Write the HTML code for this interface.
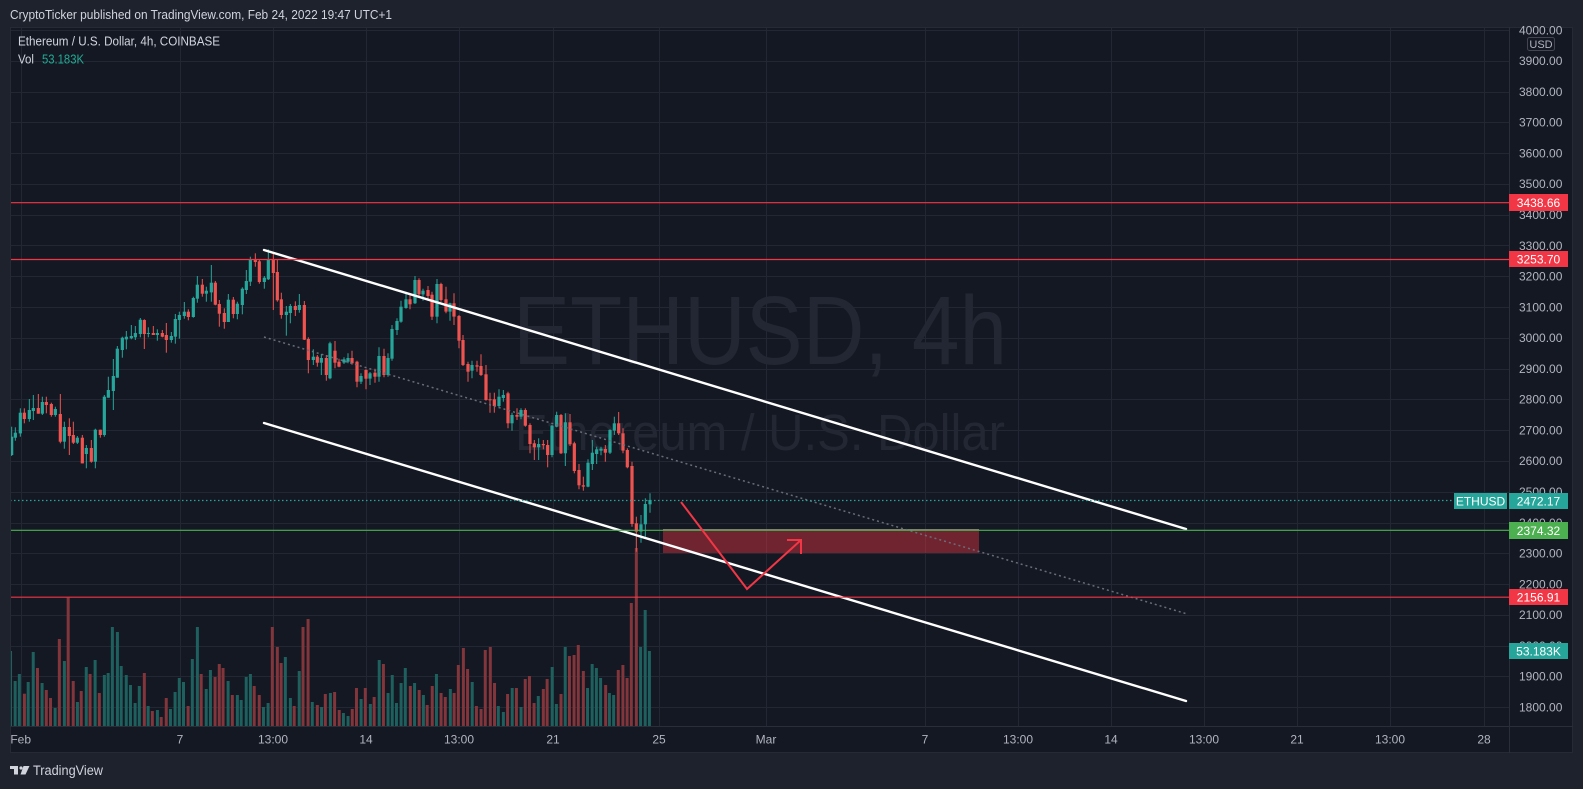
<!DOCTYPE html>
<html><head><meta charset="utf-8">
<style>
html,body{margin:0;padding:0;background:#1e222d;width:1583px;height:789px;overflow:hidden}
svg{display:block}
text{font-family:"Liberation Sans",Arial,sans-serif}
</style></head>
<body>
<svg id="s" xmlns="http://www.w3.org/2000/svg" width="1583" height="789" viewBox="0 0 1583 789">
<rect x="0" y="0" width="1583" height="789" fill="#1e222d"/>
<text x="10" y="19" font-size="13" fill="#d1d4dc" textLength="382" lengthAdjust="spacingAndGlyphs">CryptoTicker published on TradingView.com, Feb 24, 2022 19:47 UTC+1</text>
<rect x="10.5" y="27.5" width="1562" height="725" fill="#141823" stroke="#262a35" stroke-width="1"/>
<defs><clipPath id="pc"><rect x="11" y="28" width="1498" height="698"/></clipPath></defs>
<g id="plot" clip-path="url(#pc)">
  <text x="513" y="364" font-size="97" fill="#232733" textLength="494" lengthAdjust="spacingAndGlyphs">ETHUSD, 4h</text>
  <text x="515" y="450" font-size="51" fill="#232733" textLength="490" lengthAdjust="spacingAndGlyphs">Ethereum / U.S. Dollar</text>
  <g id="grid" stroke="#232733" stroke-width="1"></g>
  <g id="vol"></g>
  <g id="candles"></g>
  <rect x="663" y="529" width="316" height="24" fill="#f23645" fill-opacity="0.41"/>
  <line x1="663" y1="529.5" x2="979" y2="529.5" stroke="#8a7479" stroke-width="1"/>
  <line x1="264" y1="337" x2="1186" y2="613.6" stroke="#6a6d78" stroke-width="1.5" stroke-dasharray="2,3"/>
  <line x1="264" y1="250" x2="1186" y2="529" stroke="#ffffff" stroke-width="2.4" stroke-linecap="round"/>
  <line x1="264" y1="423" x2="1186" y2="701" stroke="#ffffff" stroke-width="2.4" stroke-linecap="round"/>
  <line x1="10" y1="202.7" x2="1509" y2="202.7" stroke="#f23645" stroke-width="1.2"/>
  <line x1="10" y1="259.5" x2="1509" y2="259.5" stroke="#f23645" stroke-width="1.2"/>
  <line x1="10" y1="597.2" x2="1509" y2="597.2" stroke="#f23645" stroke-width="1.2"/>
  <line x1="10" y1="530.3" x2="1509" y2="530.3" stroke="#4caf50" stroke-width="1.2"/>
  <line x1="10" y1="500.5" x2="1454" y2="500.5" stroke="#26a69a" stroke-width="1.2" stroke-dasharray="1.5,2.5"/>
  <polyline points="681,502 747,589 801,540" fill="none" stroke="#f23645" stroke-width="2" stroke-linejoin="miter"/>
  <polyline points="787,540 801,540 801,554" fill="none" stroke="#f23645" stroke-width="2"/>
</g>
<line x1="1509.5" y1="27" x2="1509.5" y2="753" stroke="#2a2e39" stroke-width="1"/>
<line x1="10" y1="726.5" x2="1573" y2="726.5" stroke="#2a2e39" stroke-width="1"/>
<g id="paxis" font-size="12" fill="#b2b5be"></g>
<g id="taxis" font-size="12" fill="#b2b5be" text-anchor="middle"></g>
<rect x="1527.5" y="37.5" width="27" height="13" rx="2" fill="#141823" stroke="#434651"/>
<text x="1541" y="48" font-size="11" fill="#b2b5be" text-anchor="middle">USD</text>
<g font-size="12" fill="#ffffff" text-anchor="middle">
  <rect x="1454" y="493" width="53" height="16" fill="#26a69a"/><text x="1480.5" y="505.5">ETHUSD</text>
  <rect x="1509" y="493" width="59" height="16" fill="#26a69a"/><text x="1538.5" y="505.5">2472.17</text>
  <rect x="1509" y="194" width="59" height="17" fill="#f23645"/><text x="1538.5" y="207">3438.66</text>
  <rect x="1509" y="251" width="59" height="16" fill="#f23645"/><text x="1538.5" y="263.5">3253.70</text>
  <rect x="1509" y="522" width="59" height="17" fill="#4caf50"/><text x="1538.5" y="535">2374.32</text>
  <rect x="1509" y="589" width="59" height="16" fill="#f23645"/><text x="1538.5" y="601.5">2156.91</text>
  <rect x="1509" y="643" width="59" height="16" fill="#26a69a"/><text x="1538.5" y="655.5">53.183K</text>
</g>
<text x="18" y="45.7" font-size="12.5" fill="#d1d4dc" textLength="202" lengthAdjust="spacingAndGlyphs">Ethereum / U.S. Dollar, 4h, COINBASE</text>
<text x="18" y="63.3" font-size="12.5" fill="#d1d4dc" textLength="16" lengthAdjust="spacingAndGlyphs">Vol</text>
<text x="42" y="63.3" font-size="12.5" fill="#22ab94" textLength="42" lengthAdjust="spacingAndGlyphs">53.183K</text>
<g fill="#d1d4dc">
  <rect x="10" y="766" width="8" height="3"/>
  <rect x="14" y="766" width="4" height="8.5"/>
  <circle cx="21" cy="768" r="1.6"/>
  <polygon points="23.5,766 29.5,766 25.5,774.5 20.5,774.5"/>
</g>
<text x="33" y="775" font-size="13.5" fill="#d1d4dc" textLength="70" lengthAdjust="spacingAndGlyphs">TradingView</text>
</svg>
<script>
(function(){
var NS="http://www.w3.org/2000/svg";
function el(tag,attrs,parent,txt){var e=document.createElementNS(NS,tag);for(var k in attrs)e.setAttribute(k,attrs[k]);if(txt!==undefined)e.textContent=txt;parent.appendChild(e);return e;}
function Y(p){return 60.8+(3900-p)*0.3078;}
var grid=document.getElementById('grid');
for(var p=1800;p<=4000;p+=100){var y=Math.round(Y(p))+0.5;el('line',{x1:10,y1:y,x2:1509,y2:y},grid);}
var vx=[20.7,180,273,366,459,553,659,766,925,1018,1111,1204,1297,1390,1484];
var vl=["Feb","7","13:00","14","13:00","21","25","Mar","7","13:00","14","13:00","21","13:00","28"];
vx.forEach(function(x){var xx=Math.round(x)+0.5;el('line',{x1:xx,y1:27,x2:xx,y2:727},grid);});
var ta=document.getElementById('taxis');
vx.forEach(function(x,i){el('text',{x:x,y:743.5},ta,vl[i]);});
var pa=document.getElementById('paxis');
for(var p=1800;p<=4000;p+=100){el('text',{x:1519,y:(Y(p)+4.3).toFixed(1)},pa,p+".00");}
// volume
var V=[[25,'T',198],[36,'T',288],[46,'T',267],[58,'R',326],[67,'T',291],[79,'T',201],[89,'R',249],[100,'T',294],[110,'R',315],[120,'R',339],[131,'T',369],[141,'R',162],[153,'T',228],[162,'R',38],[174,'R',288],[184,'T',351],[193,'R',318],[205,'T',246],[214,'R',267],[226,'T',225],[236,'R',324],[248,'T',270],[257,'T',264],[267,'T',126],[279,'T',141],[288,'T',243],[300,'T',270],[310,'T',300],[321,'T',354],[331,'T',303],[343,'R',264],[352,'T',363],[362,'R',378],[374,'T',375],[383,'R',396],[395,'R',339],[405,'T',372],[416,'T',321],[426,'T',279],[436,'T',291],[447,'R',363],[457,'T',222],[469,'T',126],[478,'R',267],[490,'T',312],[500,'T',255],[511,'R',276],[521,'R',237],[530,'R',249],[542,'T',288],[552,'R',330],[564,'T',330],[573,'T',345],[585,'T',276],[595,'T',267],[604,'R',303],[616,'R',330],[626,'T',366],[637,'T',354],[647,'R',126],[659,'R',186],[668,'R',234],[678,'T',216],[690,'T',339],[699,'R',363],[711,'T',258],[720,'R',126],[732,'R',102],[742,'T',351],[754,'R',360],[764,'T',366],[773,'R',327],[785,'T',324],[795,'R',321],[806,'R',375],[816,'T',384],[827,'T',393],[837,'R',372],[847,'R',309],[858,'T',342],[868,'R',309],[880,'T',357],[889,'R',336],[901,'T',225],[911,'R',237],[922,'T',324],[932,'T',270],[942,'T',354],[953,'T',294],[963,'T',249],[975,'R',303],[985,'T',294],[996,'R',315],[1006,'T',330],[1015,'R',360],[1027,'R',303],[1037,'T',267],[1048,'R',324],[1058,'R',336],[1070,'T',312],[1079,'R',324],[1089,'R',240],[1101,'R',189],[1111,'R',252],[1122,'T',291],[1132,'R',363],[1143,'R',372],[1153,'R',195],[1165,'R',186],[1175,'R',294],[1184,'T',363],[1196,'T',381],[1206,'R',327],[1217,'T',309],[1227,'R',309],[1238,'T',366],[1248,'R',282],[1258,'R',273],[1269,'R',354],[1279,'T',333],[1291,'R',312],[1300,'R',282],[1312,'T',246],[1322,'T',357],[1333,'R',327],[1343,'T',186],[1353,'R',213],[1364,'R',210],[1374,'R',180],[1386,'R',258],[1396,'T',309],[1407,'T',237],[1417,'T',249],[1427,'T',279],[1439,'R',300],[1448,'T',324],[1458,'T',330],[1469,'R',255],[1480,'R',240],[1490,'R',279],[1500,'R',54],[1512,'R',-111],[1522,'T',186],[1533,'T',75],[1543,'T',198]];
var vg=document.getElementById('vol');
V.forEach(function(v){var x=v[0]/2.376;var top=585+v[2]/3;el('rect',{x:(x-1.5).toFixed(2),y:top.toFixed(1),width:3,height:(726-top).toFixed(1),fill:v[1]=='T'?'#1d605d':'#82353a'},vg);});
// candles
var cg=document.getElementById('candles');
function C(x,t,b,c,wt,wb){var col=c=='T'?'#26a69a':'#ef5350';
 el('line',{x1:x.toFixed(2),y1:Math.min(wt,t).toFixed(1),x2:x.toFixed(2),y2:Math.max(wb,b).toFixed(1),stroke:col,'stroke-width':1},cg);
 var h=Math.max(1,b-t);el('rect',{x:(x-1.6).toFixed(2),y:t.toFixed(1),width:3.2,height:h.toFixed(1),fill:col},cg);}
var z9=[[35,590,645,'T',560,648],[46,578,593,'T',562,602],[61,518,580,'T',505,590],[73,518,537,'R',505,550],[88,510,537,'T',477,545],[100,504,513,'T',465,540],[115,504,521,'R',462,521],[127,486,521,'T',470,525],[139,486,495,'R',470,520],[154,492,525,'R',488,530],[166,507,525,'T',500,530],[181,522,605,'R',462,610],[193,561,605,'T',545,626],[208,561,588,'R',535,645],[220,585,608,'R',545,612],[232,593,608,'T',588,612],[247,593,670,'R',585,670],[259,624,642,'T',615,685],[274,624,665,'R',600,668],[286,569,665,'T',566,685],[301,569,585,'R',569,593],[313,470,585,'T',465,590],[325,450,473,'T',410,473],[340,408,453,'T',357,510],[352,326,413,'T',318,413],[367,293,330,'T',290,353],[379,290,298,'T',273,328],[394,288,295,'T',255,298],[406,279,292,'T',258,300],[421,239,282,'T',234,292],[433,240,282,'R',238,327],[445,279,282,'T',262,292],[460,279,285,'R',258,285],[472,279,285,'T',268,302],[487,279,290,'R',270,292],[499,285,300,'R',249,338],[514,288,300,'T',276,308],[526,237,290,'T',222,311],[538,225,240,'T',215,296],[553,215,228,'T',186,236],[565,215,231,'R',208,241],[580,174,231,'T',170,233],[592,134,176,'T',108,188],[607,134,161,'R',117,170],[619,152,161,'T',140,185],[634,128,157,'T',75,185],[646,128,194,'R',123,196],[658,192,221,'R',180,260],[673,219,246,'R',205,266],[685,179,246,'T',162,246],[700,179,222,'R',171,235],[712,191,222,'T',185,238],[727,146,195,'T',142,223],[739,123,150,'T',90,162],[751,57,125,'T',50,138],[766,57,66,'R',40,80],[778,64,126,'R',60,131],[793,113,126,'T',108,146],[805,57,118,'T',28,120],[820,57,99,'R',40,210],[832,96,181,'R',60,185],[844,178,225,'R',158,236],[859,215,225,'T',198,287],[871,198,219,'T',192,250],[886,198,210,'R',184,228],[898,195,210,'T',162,218],[913,195,299,'R',183,300],[925,297,360,'R',292,400],[940,350,360,'T',328,375],[952,350,368,'R',345,380],[964,354,368,'T',342,405],[979,354,405,'R',345,422]];
var z10=[[0,250,355,'T',245,358],[15,272,308,'R',243,325],[27,305,320,'R',296,322],[42,298,308,'T',292,312],[54,294,305,'T',280,310],[66,294,310,'R',272,314],[81,305,365,'R',302,382],[93,348,365,'T',340,372],[108,330,356,'R',328,388],[120,340,356,'T',336,375],[135,338,350,'R',326,368],[147,288,350,'T',262,365],[162,288,345,'R',266,352],[174,294,345,'T',280,350],[186,207,296,'T',195,302],[201,183,210,'T',175,225],[213,140,185,'T',122,188],[228,118,144,'T',95,146],[240,118,133,'R',100,148],[255,60,130,'T',48,132],[267,60,103,'R',55,108],[279,92,103,'T',86,122],[294,90,108,'R',78,122],[306,104,170,'R',95,180],[321,72,170,'T',57,190],[333,72,120,'R',68,125],[348,118,155,'R',80,160],[360,130,155,'T',128,182],[372,130,170,'R',100,195],[387,168,242,'R',165,265],[399,240,315,'R',225,318],[414,312,335,'R',305,365],[426,315,332,'T',302,355],[441,316,320,'R',302,335],[453,318,345,'R',283,348],[468,343,420,'R',315,422],[480,418,420,'R',398,458],[493,418,438,'R',398,458],[507,410,438,'T',388,445],[520,405,414,'T',390,425],[534,400,490,'R',395,505],[546,465,490,'T',458,512],[561,465,470,'R',445,480],[573,450,470,'T',445,478],[586,450,497,'R',445,500],[600,495,552,'R',490,580],[613,550,562,'R',540,600],[626,552,562,'T',535,600],[640,552,556,'R',540,568],[653,555,585,'R',540,622],[666,497,585,'T',495,592],[680,465,500,'T',455,502],[693,465,580,'R',462,582],[706,487,580,'T',460,618],[720,487,553,'R',462,558],[733,550,633,'R',545,640],[747,630,676,'R',612,688],[760,676,680,'R',650,692],[774,608,680,'T',598,682],[787,578,612,'T',540,630],[800,568,582,'T',560,612],[813,566,572,'T',560,586],[826,567,578,'R',555,605],[840,510,578,'T',508,582],[853,490,512,'T',470,525],[866,490,520,'R',456,525],[879,520,572,'R',505,580],[892,570,622,'R',565,625],[906,618,792,'R',605,800],[919,790,815,'R',770,875],[933,793,815,'T',765,848],[946,732,793,'T',715,830],[960,720,733,'T',700,758]];
z9.forEach(function(a){C(a[0]/3,240+a[1]/3,240+a[2]/3,a[3],240+a[4]/3,240+a[5]/3);});
z10.forEach(function(a){C(330+a[0]/3,260+a[1]/3,260+a[2]/3,a[3],260+a[4]/3,260+a[5]/3);});
})();
</script>
</body></html>
